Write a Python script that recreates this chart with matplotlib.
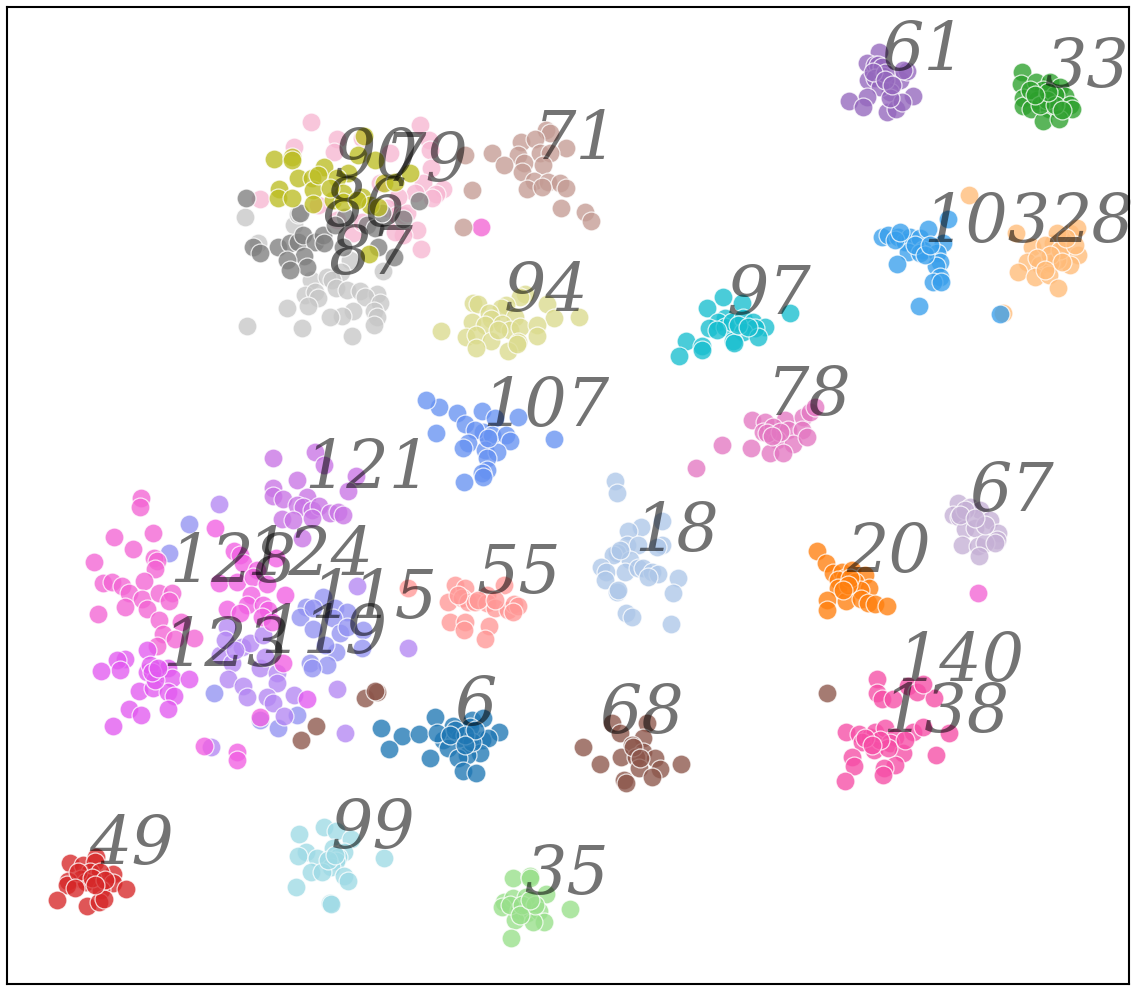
import matplotlib
matplotlib.use("Agg")
import matplotlib.pyplot as plt

c61 = [(879,52),(867,63),(875,65),(878,65),(882,67),(868,80),(883,76),(875,78),(900,80),(907,71),(903,70),(890,92),(880,87),(867,97),(849,101),(863,107),(913,96),(887,112),(896,109),(902,102),(890,98),(885,73),(873,72),(885,80),(892,85)]
c33 = [(1022,72),(1021,84),(1036,82),(1050,82),(1043,90),(1060,87),(1065,96),(1055,95),(1023,98),(1037,100),(1023,106),(1031,109),(1049,109),(1070,105),(1072,109),(1043,121),(1059,119),(1047,100),(1030,90),(1040,105),(1055,105),(1062,110),(1048,92),(1035,95)]
c103 = [(882,237),(888,235),(898,237),(905,242),(910,237),(920,238),(928,229),(948,219),(943,243),(908,252),(923,250),(920,253),(937,253),(940,262),(936,266),(897,264),(940,277),(933,282),(941,282),(919,306),(1000,314),(895,240),(915,245),(925,255),(930,245),(900,232)]
c28 = [(969,195),(1016,233),(1032,247),(1053,243),(1063,247),(1070,233),(1077,228),(1057,233),(1078,255),(1070,265),(1057,260),(1027,262),(1040,265),(1050,263),(1018,272),(1035,277),(1049,275),(1058,288),(1003,313),(1045,245),(1060,250),(1075,245),(1050,255),(1066,238),(1037,258),(1062,262),(1045,270)]
c90 = [(274,159),(292,157),(292,160),(364,136),(358,155),(375,160),(324,167),(298,178),(312,178),(348,173),(337,178),(279,189),(278,198),(292,198),(313,190),(313,204),(333,200),(343,193),(343,202),(362,197),(370,205),(378,207),(384,183),(395,182),(410,173),(369,254),(318,175),(330,188),(357,200)]
c79 = [(311,122),(294,147),(337,139),(334,152),(420,125),(429,140),(430,150),(431,168),(390,153),(260,199),(362,138),(423,183),(443,189),(436,194),(432,198),(415,193),(398,197),(380,183),(387,208),(397,215),(403,215),(407,213),(417,230),(403,235),(395,232),(421,249),(353,233),(337,220),(362,222),(318,205)]
c86 = [(246,198),(300,213),(278,247),(253,247),(260,253),(290,243),(298,242),(303,235),(315,242),(323,235),(324,243),(304,256),(287,260),(307,267),(290,270),(345,217),(335,225),(367,225),(375,228),(382,213),(403,219),(419,201),(343,247),(378,247),(394,257)]
c87 = [(245,217),(294,225),(298,214),(258,243),(350,260),(383,271),(311,280),(341,272),(327,277),(332,280),(336,288),(347,290),(360,291),(377,294),(305,295),(315,292),(318,298),(308,306),(287,308),(365,297),(380,303),(353,311),(342,316),(330,317),(374,311),(377,317),(374,325),(247,326),(302,328),(352,336)]
c71 = [(546,130),(550,133),(521,142),(535,139),(566,148),(492,153),(518,155),(540,153),(550,153),(504,165),(524,163),(543,165),(522,172),(534,181),(548,182),(560,183),(566,188),(527,189),(542,187),(472,190),(561,208),(585,212),(591,221),(463,227),(465,155)]
c94 = [(441,331),(473,303),(478,304),(525,294),(520,297),(547,304),(579,317),(554,318),(506,305),(501,308),(489,313),(472,322),(491,319),(515,317),(485,325),(502,324),(510,330),(520,327),(537,325),(537,336),(466,337),(476,335),(491,341),(518,342),(476,348),(508,351),(517,344),(498,330)]
c97 = [(723,297),(742,303),(707,308),(790,313),(725,318),(718,322),(709,328),(725,327),(732,322),(743,318),(753,322),(765,327),(755,328),(743,332),(758,337),(733,341),(734,343),(686,341),(702,346),(702,350),(679,356),(717,330),(738,325),(748,327)]
c78 = [(752,420),(722,445),(696,468),(751,448),(765,422),(785,420),(803,417),(810,412),(763,432),(773,427),(788,430),(802,430),(777,440),(793,444),(770,453),(783,453),(815,407),(767,433),(807,437),(780,432),(772,436)]
c107 = [(439,407),(426,400),(457,413),(482,411),(495,418),(518,417),(465,424),(436,433),(554,439),(483,432),(475,430),(492,435),(506,435),(510,441),(468,443),(463,448),(485,450),(497,452),(487,458),(487,470),(482,473),(483,477),(464,482),(488,438)]
c121 = [(273,458),(315,452),(324,465),(297,480),(356,476),(273,488),(273,496),(283,499),(307,497),(297,505),(303,507),(312,510),(319,506),(330,513),(338,512),(343,515),(282,519),(293,520),(312,518),(302,538),(348,491)]
c18 = [(615,481),(617,493),(662,521),(641,527),(628,531),(662,545),(627,545),(638,545),(657,547),(617,553),(613,555),(630,560),(601,567),(606,572),(605,580),(625,572),(638,568),(643,568),(652,572),(658,574),(648,577),(678,578),(617,592),(673,593),(626,613),(632,617),(671,624),(620,550),(618,590)]
c67 = [(958,503),(970,507),(980,510),(953,515),(959,517),(990,520),(965,529),(975,528),(998,533),(997,540),(962,545),(978,546),(985,543),(995,543),(979,556),(965,510),(960,515),(985,525),(975,518)]
c20 = [(817,551),(826,563),(833,573),(842,572),(845,578),(838,580),(852,570),(865,575),(855,582),(838,588),(869,588),(860,590),(827,600),(846,601),(861,599),(868,603),(875,604),(887,606),(827,610),(850,578),(848,585),(843,590)]
c55 = [(455,585),(465,588),(504,585),(487,595),(448,602),(462,598),(468,602),(475,602),(487,603),(495,608),(508,610),(514,604),(518,606),(513,612),(450,622),(465,622),(464,630),(489,626),(485,639),(408,588),(478,600),(458,595),(495,600)]
c6 = [(499,732),(435,717),(453,726),(472,720),(483,718),(443,740),(460,738),(448,748),(482,740),(488,738),(480,753),(467,755),(458,758),(463,771),(476,773),(430,758),(381,728),(402,736),(419,734),(389,749),(470,727),(437,733),(472,742),(455,730),(465,735),(475,730),(450,735),(465,745)]
c68 = [(612,723),(647,723),(620,733),(643,738),(583,747),(632,745),(643,752),(655,758),(621,757),(636,757),(600,764),(681,764),(639,768),(660,769),(652,777),(624,780),(626,783),(633,747),(827,693),(365,698),(377,692),(375,691),(316,726),(301,740),(640,758)]
c140 = [(877,679),(877,693),(882,699),(893,699),(908,686),(917,692),(934,698),(923,684),(846,732),(859,734),(870,737),(875,732),(862,742),(885,728),(895,737),(913,732),(923,727),(949,733),(874,750),(890,743),(903,753),(852,757),(854,766),(895,765),(884,768),(883,775),(936,755),(845,781),(888,748),(880,740),(865,738),(872,745),(905,740)]
c49 = [(70,863),(83,865),(96,857),(95,862),(113,874),(90,872),(100,872),(81,879),(68,881),(67,885),(86,882),(113,883),(126,889),(101,890),(57,900),(87,906),(99,902),(104,899),(78,872),(92,878),(105,880),(75,888),(95,885)]
c99 = [(299,834),(324,827),(336,831),(351,839),(306,852),(298,856),(317,858),(333,848),(344,852),(338,857),(336,861),(331,867),(311,872),(322,872),(344,876),(348,881),(384,858),(296,887),(330,903),(331,904),(328,860),(335,855)]
c35 = [(513,878),(530,876),(530,878),(546,894),(504,902),(513,898),(526,897),(502,907),(519,910),(527,913),(539,911),(544,922),(515,920),(533,922),(570,909),(511,938),(510,905),(522,905),(535,905),(520,915),(530,900)]
c128 = [(141,498),(140,507),(153,533),(114,537),(133,549),(94,562),(154,558),(157,561),(155,569),(103,583),(112,582),(122,586),(129,593),(144,581),(142,599),(159,593),(172,593),(169,601),(125,607),(147,609),(98,614),(159,620),(181,622),(163,634),(175,639),(194,638),(157,646),(978,593),(481,227)]
c124 = [(215,528),(234,551),(240,555),(243,563),(276,558),(257,570),(219,583),(237,582),(253,577),(267,584),(285,595),(251,595),(247,605),(227,609),(240,613),(263,605),(268,610),(262,617),(272,622),(283,663),(260,717),(204,746),(237,752),(237,760)]
c123 = [(147,650),(125,659),(117,660),(120,670),(101,671),(147,672),(157,674),(160,670),(168,668),(172,678),(189,679),(139,691),(153,688),(168,692),(174,696),(129,709),(141,715),(168,709),(113,726),(307,699),(150,665),(155,680),(152,672),(158,668)]
c119 = [(219,504),(227,627),(220,655),(232,663),(228,679),(242,647),(250,643),(263,635),(260,668),(265,657),(277,673),(277,683),(243,686),(247,697),(267,697),(273,703),(294,695),(284,716),(337,689),(357,586),(408,648),(345,733),(211,747),(225,640),(235,650)]
c115 = [(189,524),(169,553),(214,693),(297,715),(278,728),(260,720),(323,597),(306,607),(300,617),(313,608),(335,608),(347,612),(313,629),(333,618),(340,633),(347,627),(363,630),(362,648),(336,652),(325,645),(310,663),(327,665),(312,668)]

clusters = [
    (c115, "#9292f2"), (c119, "#b487f3"), (c121, "#c974e5"), (c128, "#f364d4"),
    (c123, "#e25af0"), (c124, "#f15fe2"), (c61, "#9467bd"), (c33, "#2ca02c"),
    (c28, "#ffbb78"), (c103, "#389fec"), (c79, "#f7b6d2"), (c87, "#c7c7c7"),
    (c86, "#7f7f7f"), (c90, "#bcbd22"), (c71, "#c49c94"), (c94, "#dbdb8d"),
    (c97, "#17becf"), (c78, "#e377c2"), (c107, "#6792f2"), (c18, "#aec7e8"),
    (c67, "#c5b0d5"), (c20, "#ff7f0e"), (c55, "#ff9896"), (c6, "#1f77b4"),
    (c68, "#8c564b"), (c140, "#f64da6"), (c49, "#d62728"), (c99, "#9edae5"),
    (c35, "#98df8a"),
]
label_names = ["61","33","90","79","71","86","87","94","97","103","28","107","78","121","18","67","20","55","128","124","115","119","123","6","68","140","138","49","99","35"]
label_x = [881,1044,334,384,534,323,329,504,727,923,1049,482,767,304,634,969,846,477,169,246,310,260,162,454,599,897,882,89,331,524]
label_y = [70,87,177,181,159,226,274,311,314,242,242,426,415,488,551,511,572,593,582,575,618,653,666,725,733,681,732,864,848,894]

fig = plt.figure(figsize=(11.42, 9.94), dpi=100)
ax = fig.add_axes([7/1142, 1-984/994, (1129-7)/1142, (984-7)/994])
for pts, col in clusters:
    xs, ys = zip(*pts)
    ax.scatter(xs, ys, s=185, c=col, alpha=0.78, edgecolors="white", linewidths=0.9, zorder=2)
for n, x, y in zip(label_names, label_x, label_y):
    ax.text(x, y, n, fontsize=48, family="DejaVu Serif", style="italic", color="black",
            alpha=0.55, ha="left", va="baseline", zorder=3)
ax.set_xlim(7, 1129)
ax.set_ylim(984, 7)
ax.set_xticks([])
ax.set_yticks([])
for s in ax.spines.values():
    s.set_linewidth(1.5)
fig.savefig("out.png", dpi=100)
